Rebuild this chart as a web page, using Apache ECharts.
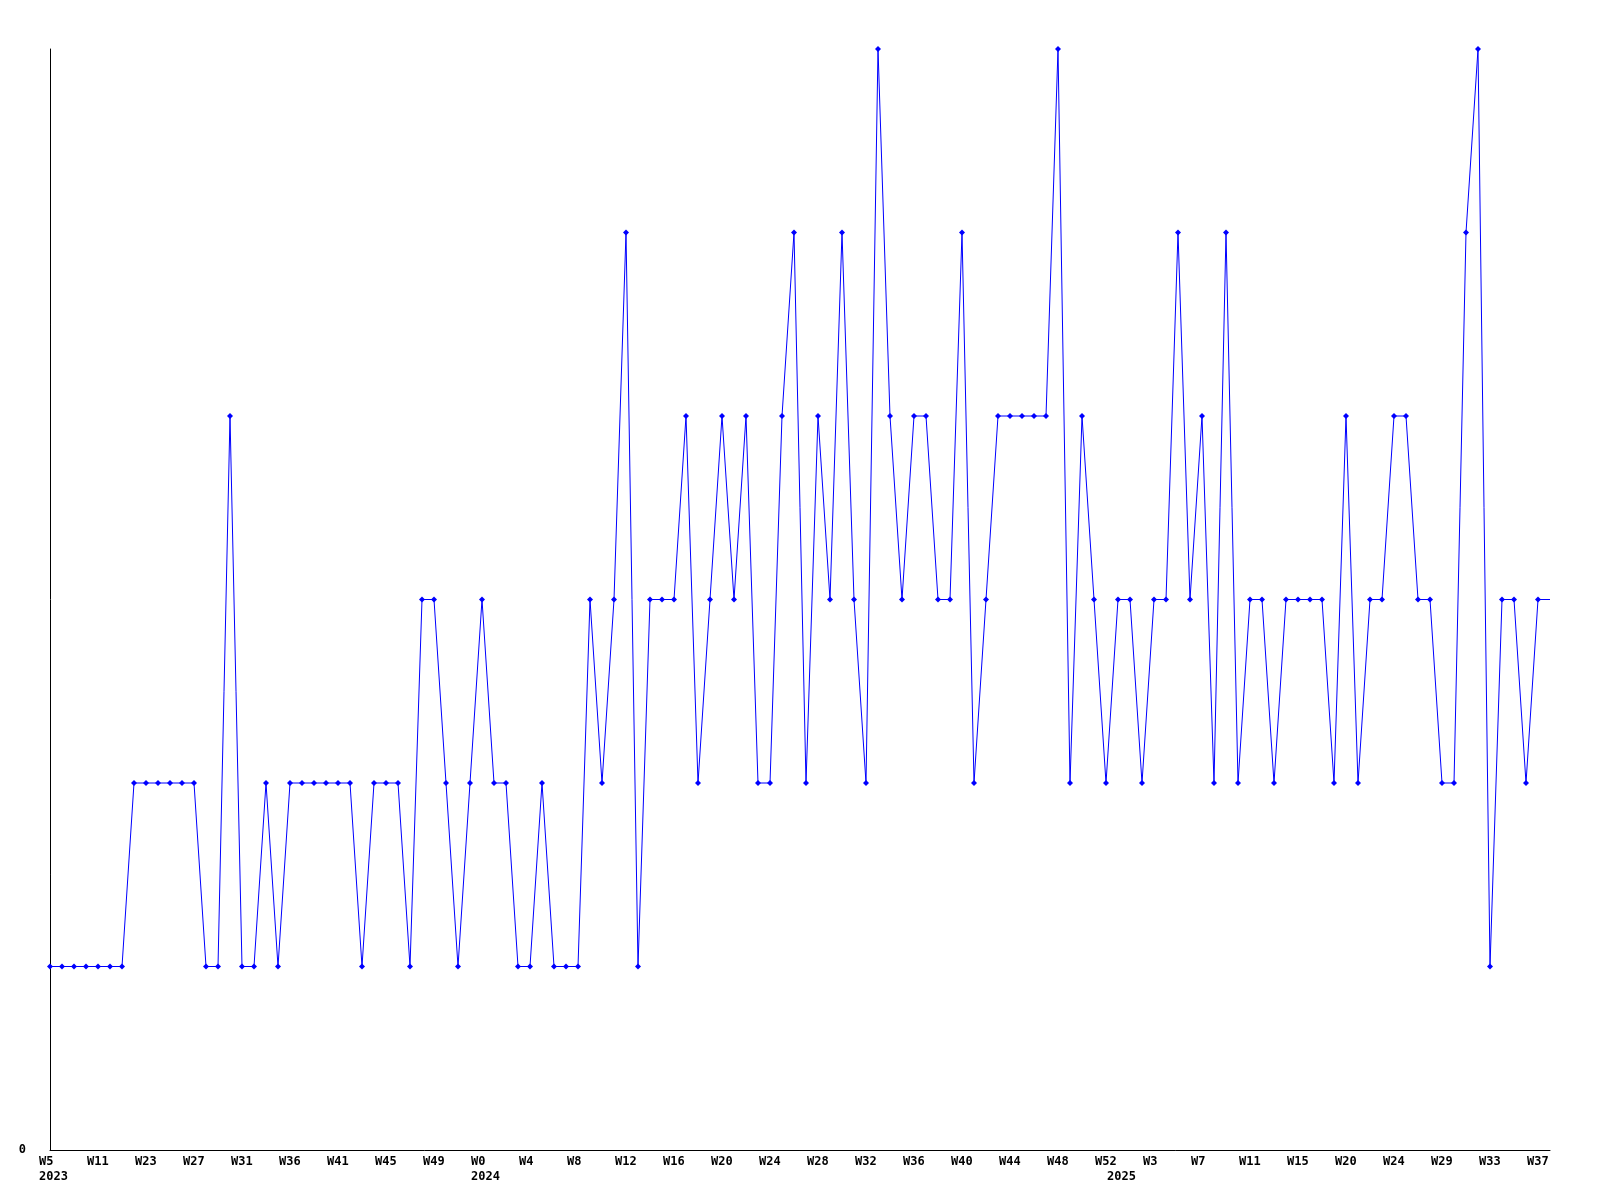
<!DOCTYPE html>
<html>
<head>
<meta charset="utf-8">
<script src="https://cdn.jsdelivr.net/npm/echarts@6/dist/echarts.min.js"></script>
<style>
html,body{margin:0;padding:0;background:#fff;}
#chart{width:1600px;height:1200px;}
</style>
</head>
<body>
<div id="chart"></div>
<script>
// Weekly values, one per point (2023 W5 ... 2025 W37)
const weekValues = [
  1,1,1,1,1,1,1,
  2,2,2,2,2,2,
  1,1,
  4,
  1,1,
  2,
  1,
  2,2,2,2,2,2,
  1,
  2,2,2,
  1,
  3,3,
  2,
  1,
  2,
  3,
  2,2,
  1,1,
  2,
  1,1,1,
  3,
  2,
  3,
  5,
  1,
  3,3,3,
  4,
  2,
  3,
  4,
  3,
  4,
  2,2,
  4,
  5,
  2,
  4,
  3,
  5,
  3,
  2,
  6,
  4,
  3,
  4,4,
  3,3,
  5,
  2,
  3,
  4,4,4,4,4,
  6,
  2,
  4,
  3,
  2,
  3,3,
  2,
  3,3,
  5,
  3,
  4,
  2,
  5,
  2,
  3,3,
  2,
  3,3,3,3,
  2,
  4,
  2,
  3,3,
  4,4,
  3,3,
  2,2,
  5,
  6,
  1,
  3,3,
  2,
  3,
  3
];

// Tick labels, one every 4 weeks
const tickLabels = ['W5','W11','W23','W27','W31','W36','W41','W45','W49','W0','W4','W8',
  'W12','W16','W20','W24','W28','W32','W36','W40','W44','W48','W52','W3','W7','W11',
  'W15','W20','W24','W29','W33','W37'];
const tickStep = 4;

// Year labels and the point index where each year starts
const yearLabels = ['2023','2024','2025'];
const yearStartIndex = [0, 36, 89];

const lastIndex = weekValues.length - 1;
const seriesData = weekValues.map((v, i) => {
  const item = { value: [i, v] };
  if (i === lastIndex) item.itemStyle = { opacity: 0 };
  return item;
});

const font = { fontFamily: 'DejaVu Sans Mono', fontWeight: 'bold', fontSize: 12, color: '#000' };

const chart = echarts.init(document.getElementById('chart'), null, { renderer: 'canvas' });
chart.setOption({
  animation: false,
  backgroundColor: '#fff',
  grid: { left: 50, right: 50, top: 49, bottom: 50, containLabel: false },
  xAxis: [
    {
      type: 'value', min: 0, max: lastIndex,
      axisLine: { show: true, onZero: false, lineStyle: { color: '#000', width: 1 } },
      axisTick: { show: false },
      splitLine: { show: false },
      axisLabel: Object.assign({
        customValues: tickLabels.map((_, k) => k * tickStep),
        formatter: v => tickLabels[Math.round(v / tickStep)] || '',
        align: 'left', padding: [0, 0, 0, -11], margin: 6
      }, font)
    },
    {
      type: 'value', min: 0, max: lastIndex, position: 'bottom',
      axisLine: { show: false }, axisTick: { show: false }, splitLine: { show: false },
      axisLabel: Object.assign({
        customValues: yearStartIndex,
        formatter: v => yearLabels[yearStartIndex.indexOf(Math.round(v))] || '',
        align: 'left', padding: [0, 0, 0, -11], margin: 21
      }, font)
    }
  ],
  yAxis: {
    type: 'value', min: 0, max: 6, interval: 6,
    axisLine: { show: true, lineStyle: { color: '#000', width: 1 } },
    axisTick: { show: false },
    splitLine: { show: false },
    axisLabel: Object.assign({ formatter: v => (v === 0 ? '0' : ''), margin: 24 }, font)
  },
  series: [{
    type: 'line',
    xAxisIndex: 0,
    data: seriesData,
    symbol: 'diamond',
    symbolSize: 6,
    showSymbol: true,
    clip: false,
    lineStyle: { color: '#0000ff', width: 1 },
    itemStyle: { color: '#0000ff' },
    emphasis: { disabled: true }
  }]
});
</script>
</body>
</html>
